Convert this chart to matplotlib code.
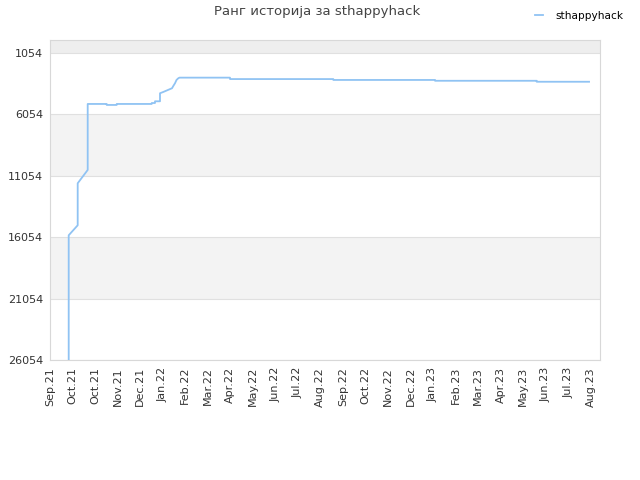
import matplotlib
matplotlib.use("Agg")
import matplotlib.pyplot as plt
from matplotlib.patches import Rectangle

tick_labels = ["Sep.21", "Oct.21", "Oct.21", "Nov.21", "Dec.21", "Jan.22", "Feb.22",
               "Mar.22", "Apr.22", "May.22", "Jun.22", "Jul.22", "Aug.22", "Sep.22",
               "Oct.22", "Nov.22", "Dec.22", "Jan.23", "Feb.23", "Mar.23", "Apr.23",
               "May.23", "Jun.23", "Jul.23", "Aug.23"]
y_ticks = [1054, 6054, 11054, 16054, 21054, 26054]

# x in tick-interval units, rank values
x_vals = [0.830, 0.830, 1.229, 1.229, 1.673, 1.673, 2.517, 2.517, 2.960, 2.960,
          4.514, 4.514, 4.660, 4.660, 4.882, 4.882, 5.029, 5.237, 5.415, 5.473,
          5.548, 5.615, 5.695, 5.748, 7.989, 7.989, 12.574, 12.574, 17.088, 17.088,
          21.602, 21.602, 23.924]
ranks = [26054, 15900, 15085, 11665, 10581, 5207, 5207, 5288, 5288, 5207,
         5207, 5130, 5130, 4990, 4990, 4336, 4230, 4067, 3928, 3741,
         3521, 3253, 3114, 3065, 3065, 3180, 3180, 3253, 3253, 3320,
         3320, 3400, 3400]

fig = plt.figure(figsize=(6.4, 4.8), dpi=100)
ax = fig.add_axes([50/640, 1-360/480, 550/640, 320/480])

ymin, ymax = 0, 26054
xmax = 24.41
ax.set_ylim(ymax, ymin)
ax.set_xlim(0, xmax)

# background bands
ax.add_patch(Rectangle((0, ymin), xmax, 1054 - ymin, facecolor="#eeeeee", edgecolor="none", zorder=0))
band_colors = ["#ffffff", "#f3f3f3", "#ffffff", "#f3f3f3", "#ffffff"]
for i, c in enumerate(band_colors):
    ax.add_patch(Rectangle((0, y_ticks[i]), xmax, 5000, facecolor=c, edgecolor="none", zorder=0))
for yt in y_ticks:
    ax.axhline(yt, color="#e0e0e0", lw=0.8, zorder=1)

ax.plot(x_vals, ranks, color="#90c3f3", lw=1.3, zorder=3, label="sthappyhack")

ax.set_yticks(y_ticks)
ax.set_yticklabels([str(v) for v in y_ticks], fontsize=8, color="#333333")
ax.set_xticks(range(len(tick_labels)))
ax.set_xticklabels(tick_labels, rotation=90, fontsize=8, color="#333333")
ax.tick_params(axis="both", length=0, pad=5)

for s in ax.spines.values():
    s.set_color("#d8d8d8")
    s.set_linewidth(0.8)

fig.text(317/640, 1-12/480, "Ранг историја за sthappyhack", ha="center", va="center",
         fontsize=9.5, color="#444444")
fig.legend(loc="upper right", bbox_to_anchor=(0.991, 1.0), frameon=False, fontsize=7.6,
           handlelength=0.8, handletextpad=1.2, borderaxespad=0.6)

fig.savefig("out.png", dpi=100)
